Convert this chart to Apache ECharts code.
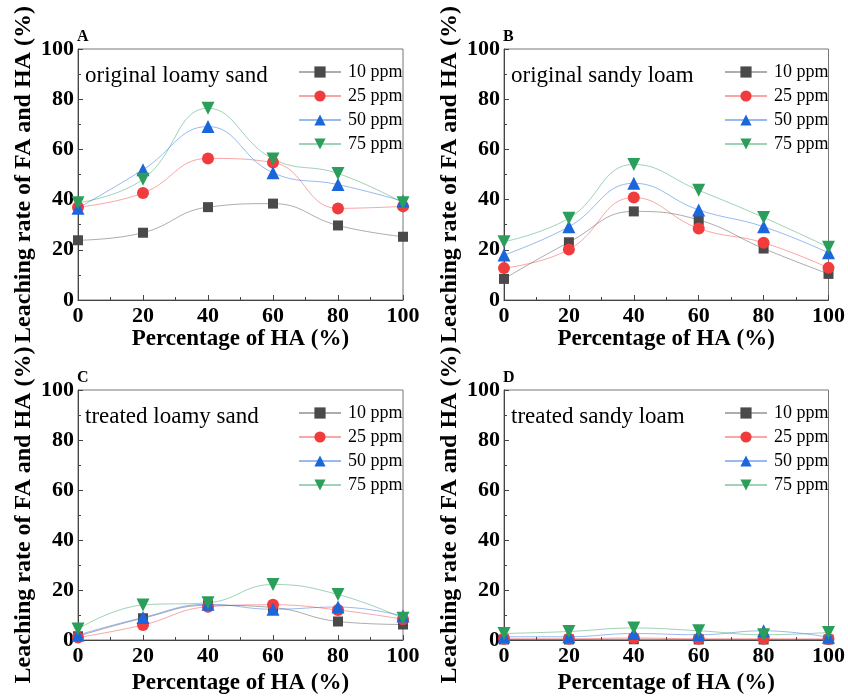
<!DOCTYPE html>
<html>
<head>
<meta charset="utf-8">
<script src="https://cdn.jsdelivr.net/npm/echarts@6/dist/echarts.min.js"></script>
<style>
html,body{margin:0;padding:0;background:#fff;}
#chart{width:848px;height:696px;}
</style>
</head>
<body>
<div id="chart"></div>
<script>
// ---- data ----
var xValues = [0, 20, 40, 60, 80, 100];
var seriesNames = ['10 ppm', '25 ppm', '50 ppm', '75 ppm'];
var panelLetters = ['A', 'B', 'C', 'D'];
var panelTexts = ['original loamy sand', 'original sandy loam', 'treated loamy sand', 'treated sandy loam'];
var yTitle = 'Leaching rate of FA and HA (%)';
var xTitle = 'Percentage of HA (%)';

var A_10 = [23.8, 26.8, 37.0, 38.4, 29.7, 25.2];
var A_25 = [37.0, 42.6, 56.4, 54.8, 36.5, 37.3];
var A_50 = [36.6, 51.9, 69.1, 50.7, 46.0, 39.4];
var A_75 = [38.7, 48.1, 76.4, 56.2, 50.4, 38.7];

var B_10 = [8.4, 23.0, 35.3, 31.9, 20.5, 10.4];
var B_25 = [12.7, 20.1, 40.8, 28.5, 22.8, 12.8];
var B_50 = [17.9, 29.2, 46.5, 35.9, 29.2, 18.8];
var B_75 = [23.2, 32.6, 54.0, 43.7, 32.9, 21.0];

var C_10 = [1.5, 8.7, 13.9, 13.0, 7.4, 6.2];
var C_25 = [1.0, 6.0, 13.3, 14.1, 12.0, 8.3];
var C_50 = [2.0, 9.0, 14.3, 12.3, 13.2, 9.6];
var C_75 = [4.4, 14.0, 14.9, 22.2, 18.2, 8.7];

var D_10 = [0.2, 0.2, 0.3, 0.2, 0.2, 0.2];
var D_25 = [0.5, 0.5, 0.8, 0.5, 0.5, 0.4];
var D_50 = [1.3, 1.3, 2.6, 2.1, 3.7, 1.1];
var D_75 = [2.6, 3.4, 4.8, 3.7, 2.1, 3.0];

var panelData = [
  [A_10, A_25, A_50, A_75],
  [B_10, B_25, B_50, B_75],
  [C_10, C_25, C_50, C_75],
  [D_10, D_25, D_50, D_75]
];

// ---- styles ----
var FONT = '"Liberation Serif", "Times New Roman", serif';
var colors = ['#4a4a4a', '#f03c3c', '#1c66dc', '#2b9e5c'];
var symbols = ['rect', 'circle', 'triangle', 'triangle'];
var symbolSizes = [10, 12, 13, 13];
var symbolRotates = [0, 0, 0, 180];

var grids = [
  {left: 78, width: 325, top: 49, height: 251},
  {left: 504, width: 325, top: 49, height: 251},
  {left: 78, width: 325, top: 390, height: 251},
  {left: 504, width: 325, top: 390, height: 251}
];
var xNameGaps = [22, 22, 32, 32];

var option = {
  backgroundColor: '#fff',
  animation: false,
  grid: [], xAxis: [], yAxis: [], series: [], legend: [], title: []
};

for (var p = 0; p < 4; p++) {
  var g = grids[p];
  option.grid.push({left: g.left, width: g.width, top: g.top, height: g.height,
    show: true, borderColor: '#777', borderWidth: 1, backgroundColor: 'transparent'});
  option.xAxis.push({
    type: 'value', gridIndex: p, min: 0, max: 100, interval: 20,
    name: xTitle, nameLocation: 'middle', nameGap: xNameGaps[p],
    nameTextStyle: {fontFamily: FONT, fontWeight: 'bold', fontSize: 23, color: '#000', verticalAlign: 'top'},
    axisLine: {show: true, onZero: false, lineStyle: {color: '#444', width: 1}},
    axisTick: {show: true, inside: true, length: 5, lineStyle: {color: '#444'}},
    minorTick: {show: true, splitNumber: 2, length: 3, lineStyle: {color: '#444'}},
    splitLine: {show: false},
    axisLabel: {fontFamily: FONT, fontWeight: 'bold', fontSize: 22, color: '#000', margin: 5}
  });
  option.yAxis.push({
    type: 'value', gridIndex: p, min: 0, max: 100, interval: 20,
    name: yTitle, nameLocation: 'middle', nameGap: 42, nameRotate: 90,
    nameTextStyle: {fontFamily: FONT, fontWeight: 'bold', fontSize: 24, color: '#000'},
    axisLine: {show: true, onZero: false, lineStyle: {color: '#444', width: 1}},
    axisTick: {show: true, inside: true, length: 5, lineStyle: {color: '#444'}},
    minorTick: {show: true, splitNumber: 2, length: 3, lineStyle: {color: '#444'}},
    splitLine: {show: false},
    axisLabel: {fontFamily: FONT, fontWeight: 'bold', fontSize: 22, color: '#000', margin: 4}
  });
  for (var s = 0; s < 4; s++) {
    var vals = panelData[p][s];
    var pts = [];
    for (var i = 0; i < xValues.length; i++) pts.push([xValues[i], vals[i]]);
    option.series.push({
      type: 'line', name: seriesNames[s], xAxisIndex: p, yAxisIndex: p,
      data: pts, smooth: 0.45,
      symbol: symbols[s], symbolSize: symbolSizes[s], symbolRotate: symbolRotates[s],
      itemStyle: {color: colors[s], opacity: 1},
      lineStyle: {color: colors[s], width: 1, opacity: 0.45},
      z: 2 + s
    });
  }
  option.legend.push({
    orient: 'vertical', left: g.left + 220, top: g.top + 14,
    itemWidth: 42, itemHeight: 14, itemGap: 6,
    data: seriesNames.map(function (n) { return {name: n}; }),
    textStyle: {fontFamily: FONT, fontSize: 18, color: '#000', padding: [0, 0, 0, 2]},
    padding: 0, selectedMode: false
  });
  option.title.push({
    text: panelLetters[p], left: g.left - 1, top: g.top - 20,
    textStyle: {fontFamily: FONT, fontWeight: 'bold', fontSize: 16, color: '#000'}, padding: 0
  });
  option.title.push({
    text: panelTexts[p], left: g.left + 7, top: g.top + 15,
    textStyle: {fontFamily: FONT, fontWeight: 'normal', fontSize: 23, color: '#000'}, padding: 0
  });
}

var chart = echarts.init(document.getElementById('chart'), null, {renderer: 'canvas'});
chart.setOption(option);
</script>
</body>
</html>
